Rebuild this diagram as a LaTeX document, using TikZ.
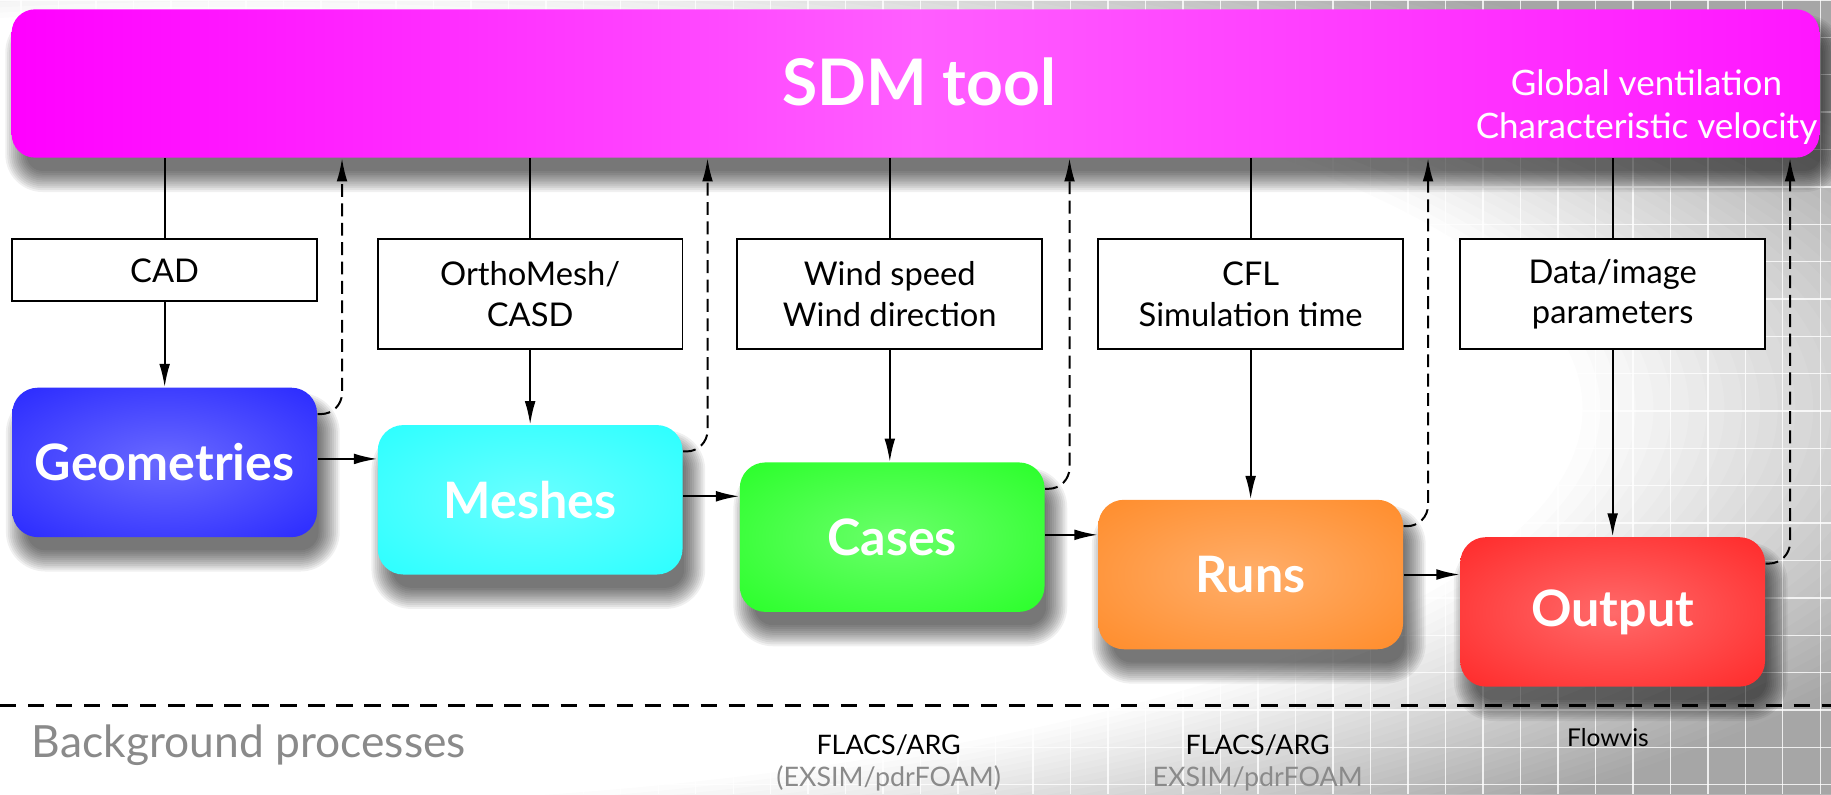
\documentclass[tikz,border=0pt]{standalone}
\usepackage{fontspec}
\setmainfont{Lato}
\usetikzlibrary{arrows.meta,calc}

% colours
\definecolor{barOut}{HTML}{FF00FF}
\definecolor{barOutR}{HTML}{FF16FF}
\definecolor{barIn}{HTML}{FF5EFF}
\definecolor{geoIn}{HTML}{6A6AFF}
\definecolor{geoOut}{HTML}{1010FF}
\definecolor{meshIn}{HTML}{6AFFFF}
\definecolor{meshOut}{HTML}{12FFFF}
\definecolor{caseIn}{HTML}{6AFF6A}
\definecolor{caseOut}{HTML}{10FF10}
\definecolor{runIn}{HTML}{FFAE6A}
\definecolor{runOut}{HTML}{FF7F12}
\definecolor{outIn}{HTML}{FF6A6A}
\definecolor{outOut}{HTML}{FF1010}
\definecolor{noteGrey}{HTML}{8A8A8A}

% radial shadings: light centre, saturated rim
\pgfdeclareradialshading{geoShade}{\pgfpoint{0bp}{0bp}}{color(0bp)=(geoIn); color(50bp)=(geoOut); color(71bp)=(geoOut)}
\pgfdeclareradialshading{meshShade}{\pgfpoint{0bp}{0bp}}{color(0bp)=(meshIn); color(50bp)=(meshOut); color(71bp)=(meshOut)}
\pgfdeclareradialshading{caseShade}{\pgfpoint{0bp}{0bp}}{color(0bp)=(caseIn); color(50bp)=(caseOut); color(71bp)=(caseOut)}
\pgfdeclareradialshading{runShade}{\pgfpoint{0bp}{0bp}}{color(0bp)=(runIn); color(50bp)=(runOut); color(71bp)=(runOut)}
\pgfdeclareradialshading{outShade}{\pgfpoint{0bp}{0bp}}{color(0bp)=(outIn); color(50bp)=(outOut); color(71bp)=(outOut)}

\pgfdeclarelayer{backdrop}
\pgfdeclarelayer{shade}
\pgfsetlayers{backdrop,shade,main}

% soft drop shadow under a rounded node: #1 node name, #2 corner radius in pt
\newcommand\dropshade[2]{%
  \foreach \k in {0,...,11}{%
    \pgfmathsetmacro\ee{-3+\k*0.82}%
    \pgfmathsetmacro\rr{#2+\ee}%
    \pgfmathsetmacro\xa{3.5-\ee}%
    \pgfmathsetmacro\ya{-8.5-\ee}%
    \pgfmathsetmacro\xb{3.5+\ee}%
    \pgfmathsetmacro\yb{-8.5+\ee}%
    \fill[black, opacity=0.06, rounded corners=\rr pt]
      ([shift={(\xa pt,\ya pt)}]#1.south west) rectangle ([shift={(\xb pt,\yb pt)}]#1.north east);
  }}

\begin{document}
\begin{tikzpicture}[x=0.5pt,y=-0.5pt,
  topbar/.style={rounded corners=10pt, minimum width=774pt, minimum height=63.5pt, inner sep=0pt,
    left color=barOut, right color=barOutR, middle color=barIn},
  proc/.style={rounded corners=11pt, minimum width=130.5pt, minimum height=64pt, inner sep=0pt,
    text=white, font=\bfseries\fontsize{21.5}{24}\selectfont},
  param/.style={draw=black, line width=0.8pt, fill=white, minimum width=130.5pt, inner sep=0pt,
    align=center, font=\fontsize{14}{17.5}\selectfont},
  link/.style={line width=0.85pt, draw=black},
  arr/.style={link, -{Latex[length=10pt,width=4.6pt]}},
  fb/.style={arr, dash pattern=on 5.5pt off 2.8pt, rounded corners=9pt},
  sep/.style={line width=1.2pt, dash pattern=on 7pt off 5pt},
  note/.style={font=\fontsize{11.5}{13}\selectfont, inner sep=0pt},
]
\useasboundingbox (0,0) rectangle (1568,680);

% backdrop: white centre darkening smoothly towards the right and bottom, faint white grid
\begin{pgfonlayer}{backdrop}
\begin{scope}
  \clip (0,0) rectangle (1568,680);
  \fill[white] (0,0) rectangle (1568,680);
  \foreach \k in {0,...,29}{%
    \pgfmathsetmacro\ra{1520*(0.76+0.01*\k)}%
    \pgfmathsetmacro\rb{447*(0.76+0.01*\k)}%
    \fill[black, opacity=0.01, even odd rule]
      (-10,-10) rectangle (1580,690) (200,350) ellipse [x radius=\ra, y radius=\rb];
  }
  \foreach \i in {0,...,48}
    \draw[white, opacity=.8, line width=.6pt] (18+32.1*\i,0) -- (18+32.1*\i,680);
  \foreach \j in {0,...,21}
    \draw[white, opacity=.8, line width=.6pt] (0,32*\j) -- (1568,32*\j);
\end{scope}
\end{pgfonlayer}

% SDM tool bar
\node[topbar] (bar) at (784,71.5) {};
\node[text=white, font=\bfseries\fontsize{27.5}{30}\selectfont, inner sep=0pt] (sdm) at (787,70) {SDM tool};
\node[text=white, align=center, font=\fontsize{15}{18.5}\selectfont, inner sep=0pt] (glob) at (1410,92)
  {Global ventilation\\Characteristic velocity};

% process boxes
\node[proc, shading=geoShade]  (geo)   at (141,396)  {Geometries};
\node[proc, shading=meshShade] (mesh)  at (454,428)  {Meshes};
\node[proc, shading=caseShade] (cases) at (764,460)  {Cases};
\node[proc, shading=runShade]  (runs)  at (1071,492) {Runs};
\node[proc, shading=outShade]  (out)   at (1381,524) {Output};

% shadows beneath the coloured boxes
\begin{pgfonlayer}{shade}
  \dropshade{bar}{10}
  \dropshade{geo}{11}
  \dropshade{mesh}{11}
  \dropshade{cases}{11}
  \dropshade{runs}{11}
  \dropshade{out}{11}
\end{pgfonlayer}

% parameter boxes
\node[param, minimum height=26.5pt] (cad)   at (141,231.5) {CAD};
\node[param, minimum height=47pt]   (ortho) at (454,252)   {OrthoMesh/\\CASD};
\node[param, minimum height=47pt]   (wind)  at (762,252)   {Wind speed\\Wind direction};
\node[param, minimum height=47pt]   (cfl)   at (1071,252)  {CFL\\Simulation time};
\node[param, minimum height=47pt]   (data)  at (1381,252)  {Data/image\\parameters};

% tool -> parameter -> process
\foreach \pa/\pr in {cad/geo, ortho/mesh, wind/cases, cfl/runs, data/out}{
  \draw[link] (\pa.north |- bar.south) -- (\pa.north);
  \draw[arr] (\pa.south) -- (\pa.south |- \pr.north);
}

% process chain
\draw[arr] ([yshift=1.5pt]geo.east)   -- ([yshift=1.5pt]geo.east -| mesh.west);
\draw[arr] ([yshift=1.5pt]mesh.east)  -- ([yshift=1.5pt]mesh.east -| cases.west);
\draw[arr] ([yshift=1pt]cases.east)   -- ([yshift=1pt]cases.east -| runs.west);
\draw[arr] (runs.east) -- (runs.east -| out.west);

% results reported back to the tool
\foreach \p in {geo,mesh,cases,runs,out}
  \draw[fb] ($(\p.north east)+(0,23)$) -| ($(\p.north east |- bar.south)+(21,0)$);

% background processes
\coordinate (sepL) at (0,604);
\coordinate (sepR) at (1568,604);
\draw[sep] (sepL) -- (sepR);
\node[anchor=west, text=noteGrey, font=\fontsize{19}{22}\selectfont, inner sep=0pt] (bgp) at (27,638) {Background processes};
\node[note] (fa1) at (761,638) {FLACS/ARG};
\node[note, text=noteGrey] (ex1) at (761,667) {(EXSIM/pdrFOAM)};
\node[note] (fa2) at (1077,638) {FLACS/ARG};
\node[note, text=noteGrey] (ex2) at (1077,667) {EXSIM/pdrFOAM};
\node[note, font=\fontsize{10.5}{12}\selectfont] (fv) at (1377,632) {Flowvis};
\end{tikzpicture}
\end{document}
